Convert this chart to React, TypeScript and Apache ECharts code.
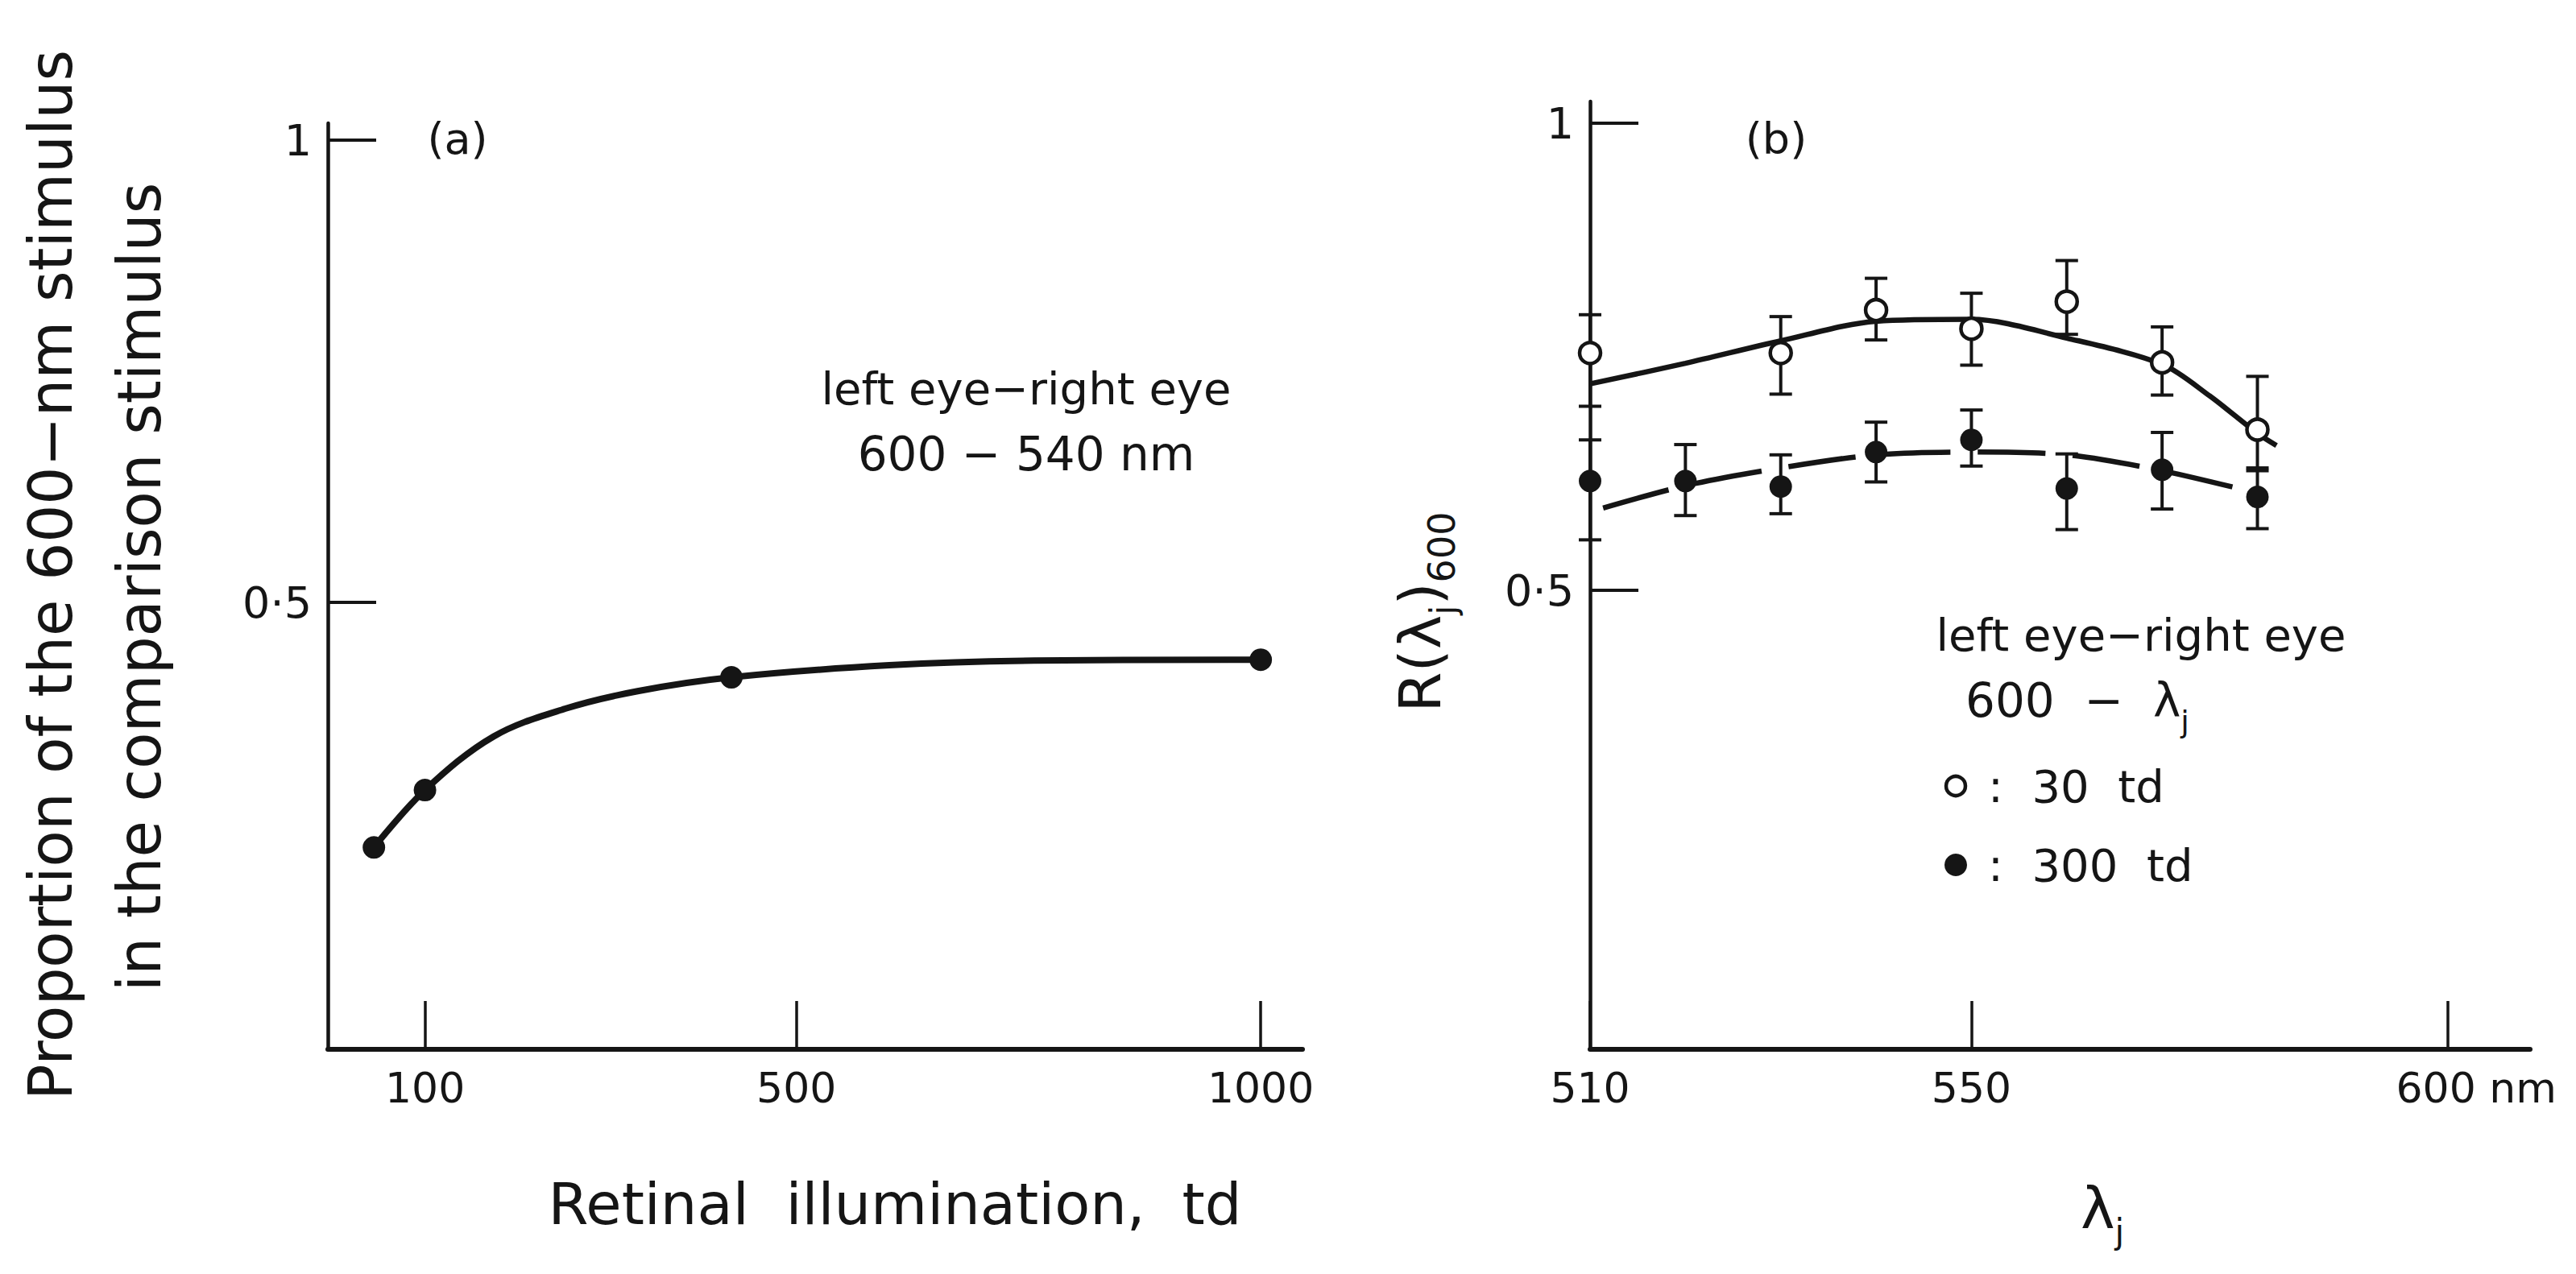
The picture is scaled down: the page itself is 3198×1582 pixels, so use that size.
import React, { useEffect, useRef } from "react";
import * as echarts from "echarts";

// ---------- Panel (a) ----------
const A_ILLUM = [45, 100, 430, 1000];
const A_PROP = [0.235, 0.297, 0.419, 0.438];
const A_FIT_X = [45, 100, 174, 251, 329, 430, 600, 756, 1000];
const A_FIT_Y = [0.235, 0.297, 0.355, 0.385, 0.404, 0.419, 0.432, 0.437, 0.438];
const A_XTICKS = [100, 500, 1000];
const YTICKS = [0.5, 1];

// ---------- Panel (b) ----------
const B_WL_30 = [510, 530, 540, 550, 560, 570, 580];
const B_R_30 = [0.754, 0.754, 0.8, 0.78, 0.809, 0.744, 0.672];
const B_LO_30 = [0.697, 0.71, 0.768, 0.741, 0.774, 0.709, 0.628];
const B_HI_30 = [0.795, 0.793, 0.834, 0.818, 0.853, 0.782, 0.729];

const B_WL_300 = [510, 520, 530, 540, 550, 560, 570, 580];
const B_R_300 = [0.617, 0.617, 0.611, 0.648, 0.661, 0.609, 0.629, 0.6];
const B_LO_300 = [0.554, 0.58, 0.582, 0.616, 0.633, 0.565, 0.587, 0.566];
const B_HI_300 = [0.661, 0.656, 0.645, 0.68, 0.693, 0.646, 0.669, 0.631];

const B_FIT30_X = [510, 520, 530, 540, 550, 560, 570, 575, 580, 582];
const B_FIT30_Y = [0.721, 0.743, 0.767, 0.788, 0.79, 0.77, 0.742, 0.708, 0.668, 0.655];
const B_FIT300_X = [510, 520, 530, 540, 550, 560, 570, 580];
const B_FIT300_Y = [0.584, 0.612, 0.631, 0.645, 0.648, 0.645, 0.628, 0.604];
const B_XTICKS = [510, 550, 600];

const INK = "#151515";
const FONT = "DejaVu Sans";

const zip = (xs: number[], ys: number[]) => xs.map((x, i) => [x, ys[i]]);
const zip3 = (xs: number[], a: number[], b: number[]) => xs.map((x, i) => [x, a[i], b[i]]);

function errRender(params: any, api: any) {
  const x = api.value(0);
  const lo = api.coord([x, api.value(1)]);
  const hi = api.coord([x, api.value(2)]);
  const w = 14;
  const st = { stroke: INK, lineWidth: 4 };
  return {
    type: "group",
    children: [
      { type: "line", shape: { x1: lo[0], y1: lo[1], x2: hi[0], y2: hi[1] }, style: st },
      { type: "line", shape: { x1: lo[0] - w, y1: lo[1], x2: lo[0] + w, y2: lo[1] }, style: st },
      { type: "line", shape: { x1: hi[0] - w, y1: hi[1], x2: hi[0] + w, y2: hi[1] }, style: st },
    ],
  };
}

const yLabelFmt = (v: number) => (v === 1 ? "1" : "0·5");

function makeYAxis(gridIndex: number, min: number, max: number) {
  return {
    gridIndex,
    type: "value",
    min,
    max,
    axisLine: { show: true, onZero: false, lineStyle: { color: INK, width: 4.5 } },
    axisTick: { show: true, inside: true, length: 60, customValues: YTICKS, lineStyle: { color: INK, width: 4 } },
    axisLabel: { show: true, customValues: YTICKS, formatter: yLabelFmt, margin: 20, fontSize: 54, color: INK, fontFamily: FONT },
    splitLine: { show: false },
  };
}

export default function App() {
  const ref = useRef<HTMLDivElement>(null);
  useEffect(() => {
    if (!ref.current) return;
    const chart = echarts.init(ref.current, undefined, { renderer: "svg" });
    const txt = (x: number, y: number, text: string, size: number, extra: any = {}) => ({
      type: "text",
      x,
      y,
      ...extra,
      style: { text, fontSize: size, fontFamily: FONT, fill: INK, align: "center", verticalAlign: "middle", ...(extra.style || {}) },
    });
    const option: any = {
      animation: false,
      backgroundColor: "#ffffff",
      textStyle: { fontFamily: FONT },
      grid: [
        { left: 407, top: 153, width: 1210, height: 1150, containLabel: false, outerBoundsMode: "none" },
        { left: 1974, top: 126, width: 1167, height: 1177, containLabel: false, outerBoundsMode: "none" },
      ],
      xAxis: [
        {
          gridIndex: 0,
          type: "value",
          min: -4.6,
          max: 1045,
          axisLine: { show: true, onZero: false, lineStyle: { color: INK, width: 6 } },
          axisTick: { show: true, inside: true, length: 60, customValues: A_XTICKS, lineStyle: { color: INK, width: 3.5 } },
          axisLabel: {
            show: true,
            customValues: A_XTICKS,
            formatter: (v: number) => String(v),
            margin: 22,
            fontSize: 52,
            color: INK,
            fontFamily: FONT,
          },
          splitLine: { show: false },
        },
        {
          gridIndex: 1,
          type: "value",
          min: 510,
          max: 608.6,
          axisLine: { show: true, onZero: false, lineStyle: { color: INK, width: 6 } },
          axisTick: { show: true, inside: true, length: 60, customValues: B_XTICKS, lineStyle: { color: INK, width: 3.5 } },
          axisLabel: {
            show: true,
            customValues: B_XTICKS,
            margin: 22,
            fontSize: 52,
            color: INK,
            fontFamily: FONT,
            formatter: (v: number) => (v === 600 ? "{s|600 nm}" : String(v)),
            rich: { s: { fontSize: 52, fontFamily: FONT, color: INK, padding: [0, 0, 0, 70] } },
          },
          splitLine: { show: false },
        },
      ],
      yAxis: [makeYAxis(0, 0.0166, 1.0183), makeYAxis(1, 0.0086, 1.0233)],
      series: [
        {
          type: "line",
          xAxisIndex: 0,
          yAxisIndex: 0,
          data: zip(A_FIT_X, A_FIT_Y),
          smooth: 0.35,
          showSymbol: false,
          lineStyle: { color: INK, width: 8 },
          z: 2,
        },
        {
          type: "scatter",
          xAxisIndex: 0,
          yAxisIndex: 0,
          data: zip(A_ILLUM, A_PROP),
          symbol: "circle",
          symbolSize: 28,
          itemStyle: { color: INK, opacity: 1 },
          z: 4,
        },
        {
          type: "line",
          xAxisIndex: 1,
          yAxisIndex: 1,
          data: zip(B_FIT30_X, B_FIT30_Y),
          smooth: 0.3,
          showSymbol: false,
          lineStyle: { color: INK, width: 6.5 },
          z: 2,
        },
        {
          type: "line",
          xAxisIndex: 1,
          yAxisIndex: 1,
          data: zip(B_FIT300_X, B_FIT300_Y),
          smooth: 0.3,
          showSymbol: false,
          lineStyle: { color: INK, width: 6.5, type: [84, 34], dashOffset: 101 },
          z: 2,
        },
        {
          type: "custom",
          xAxisIndex: 1,
          yAxisIndex: 1,
          data: zip3(B_WL_30, B_LO_30, B_HI_30),
          renderItem: errRender,
          encode: { x: 0, y: [1, 2] },
          z: 3,
        },
        {
          type: "custom",
          xAxisIndex: 1,
          yAxisIndex: 1,
          data: zip3(B_WL_300, B_LO_300, B_HI_300),
          renderItem: errRender,
          encode: { x: 0, y: [1, 2] },
          z: 3,
        },
        {
          type: "scatter",
          xAxisIndex: 1,
          yAxisIndex: 1,
          data: zip(B_WL_30, B_R_30),
          symbol: "circle",
          symbolSize: 26,
          itemStyle: { color: "#ffffff", borderColor: INK, borderWidth: 4.5, opacity: 1 },
          z: 5,
        },
        {
          type: "scatter",
          xAxisIndex: 1,
          yAxisIndex: 1,
          data: zip(B_WL_300, B_R_300),
          symbol: "circle",
          symbolSize: 28,
          itemStyle: { color: INK, opacity: 1 },
          z: 5,
        },
      ],
      graphic: [
        txt(568, 172, "(a)", 54),
        txt(2205, 172, "(b)", 54),
        txt(1274, 482, "left eye−right eye", 56),
        txt(1274, 564, "600 − 540 nm", 58),
        txt(2658, 788, "left eye−right eye", 56),
        {
          type: "text",
          x: 2440,
          y: 870,
          style: {
            text: "{n|600  −  λ}{j|j}",
            align: "left",
            verticalAlign: "middle",
            rich: {
              n: { fontSize: 58, fontFamily: FONT, fill: INK, lineHeight: 90, verticalAlign: "middle" },
              j: { fontSize: 38, fontFamily: FONT, fill: INK, lineHeight: 90, verticalAlign: "bottom" },
            },
          },
        },
        { type: "circle", shape: { cx: 2428, cy: 976, r: 12 }, style: { fill: "#fff", stroke: INK, lineWidth: 4.5 } },
        { type: "circle", shape: { cx: 2428, cy: 1074, r: 14 }, style: { fill: INK } },
        txt(2468, 976, ":  30  td", 56, { style: { align: "left" } }),
        txt(2468, 1074, ":  300  td", 56, { style: { align: "left" } }),
        txt(63, 714, "Proportion of the 600−nm stimulus", 74, { rotation: Math.PI / 2 }),
        txt(173, 729, "in the comparison stimulus", 74, { rotation: Math.PI / 2 }),
        txt(1111, 1495, "Retinal  illumination,  td", 72),
        {
          type: "text",
          x: 1763,
          y: 760,
          rotation: Math.PI / 2,
          style: {
            text: "{n|R(λ}{j|j}{n|)}{s|600}",
            align: "center",
            verticalAlign: "middle",
            rich: {
              n: { fontSize: 72, fontFamily: FONT, fill: INK, lineHeight: 100, verticalAlign: "middle" },
              j: { fontSize: 44, fontFamily: FONT, fill: INK, lineHeight: 100, verticalAlign: "bottom" },
              s: { fontSize: 46, fontFamily: FONT, fill: INK, lineHeight: 100, verticalAlign: "bottom" },
            },
          },
        },
        {
          type: "text",
          x: 2610,
          y: 1500,
          style: {
            text: "{n|λ}{j|j}",
            align: "center",
            verticalAlign: "middle",
            rich: {
              n: { fontSize: 72, fontFamily: FONT, fill: INK, lineHeight: 100, verticalAlign: "middle" },
              j: { fontSize: 42, fontFamily: FONT, fill: INK, lineHeight: 100, verticalAlign: "bottom" },
            },
          },
        },
      ],
    };
    chart.setOption(option);
    return () => chart.dispose();
  }, []);
  return (
    <div
      ref={ref}
      style={{ position: "fixed", left: 0, top: 0, width: "3198px", height: "1582px", background: "#fff" }}
    />
  );
}
